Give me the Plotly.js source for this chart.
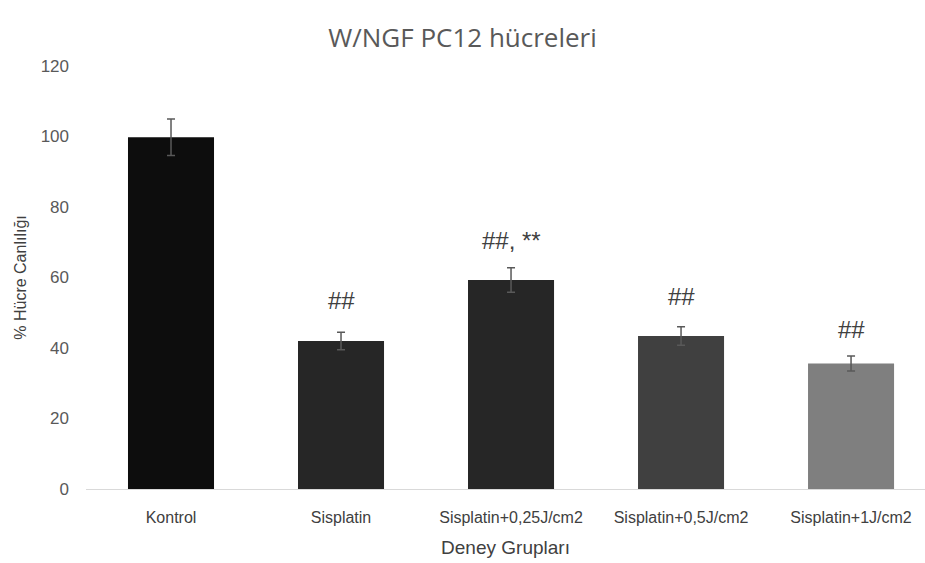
<!DOCTYPE html>
<html>
<head>
<meta charset="utf-8">
<script src="https://cdn.plot.ly/plotly-3.0.1.min.js"></script>
<style>html,body{margin:0;padding:0;background:#fff;}#chart{width:925px;height:563px;}</style>
</head>
<body>
<div id="chart"></div>
<script>
const categories = ["Kontrol", "Sisplatin", "Sisplatin+0,25J/cm2", "Sisplatin+0,5J/cm2", "Sisplatin+1J/cm2"];
const values = [99.8, 42.0, 59.3, 43.4, 35.6];
const errors = [5.2, 2.5, 3.5, 2.6, 2.1];
const barColors = ["#0d0d0d", "#262626", "#262626", "#404040", "#7f7f7f"];
const markLabels = ["", "##", "##, **", "##", "##"];
const markY = [null, 53.5, 70.5, 54.5, 45.2];

const FONT = "Liberation Sans, Arial, sans-serif";

const trace = {
  type: "bar",
  x: categories,
  y: values,
  width: 0.506,
  marker: {color: barColors, line: {width: 0}},
  error_y: {type: "data", array: errors, visible: true, color: "#595959", thickness: 1.5, width: 4},
  hoverinfo: "none"
};

const annotations = [];
markLabels.forEach((t, i) => {
  if (!t) return;
  annotations.push({x: categories[i], y: markY[i], xref: "x", yref: "y", text: t, showarrow: false,
    font: {family: FONT, size: 24, color: "#404040"}});
});

const layout = {
  width: 925, height: 563,
  margin: {l: 86, r: 0, t: 66, b: 74},
  paper_bgcolor: "#fff", plot_bgcolor: "#fff",
  showlegend: false,
  title: {text: "W/NGF PC12 hücreleri", x: 0.5, xanchor: "center", y: 0.933, yanchor: "middle",
    font: {family: "Open Sans, Liberation Sans, sans-serif", size: 26, color: "#595959"}},
  xaxis: {
    range: [-0.5, 4.435], showgrid: false, zeroline: false,
    showline: true, linecolor: "#d9d9d9", linewidth: 1,
    ticks: "", ticklabelstandoff: 14,
    tickfont: {family: FONT, size: 16, color: "#404040"},
    title: {text: "Deney Grupları", standoff: 15, font: {family: FONT, size: 19, color: "#404040"}}
  },
  yaxis: {
    range: [0, 120], dtick: 20, showgrid: false, zeroline: false, showline: false, ticks: "",
    ticklabelstandoff: 16,
    tickfont: {family: FONT, size: 17, color: "#595959"},
    title: {text: "% Hücre Canlılığı", standoff: 10, font: {family: FONT, size: 16, color: "#404040"}}
  },
  annotations: annotations
};

Plotly.newPlot("chart", [trace], layout, {displayModeBar: false, staticPlot: true});
</script>
</body>
</html>
